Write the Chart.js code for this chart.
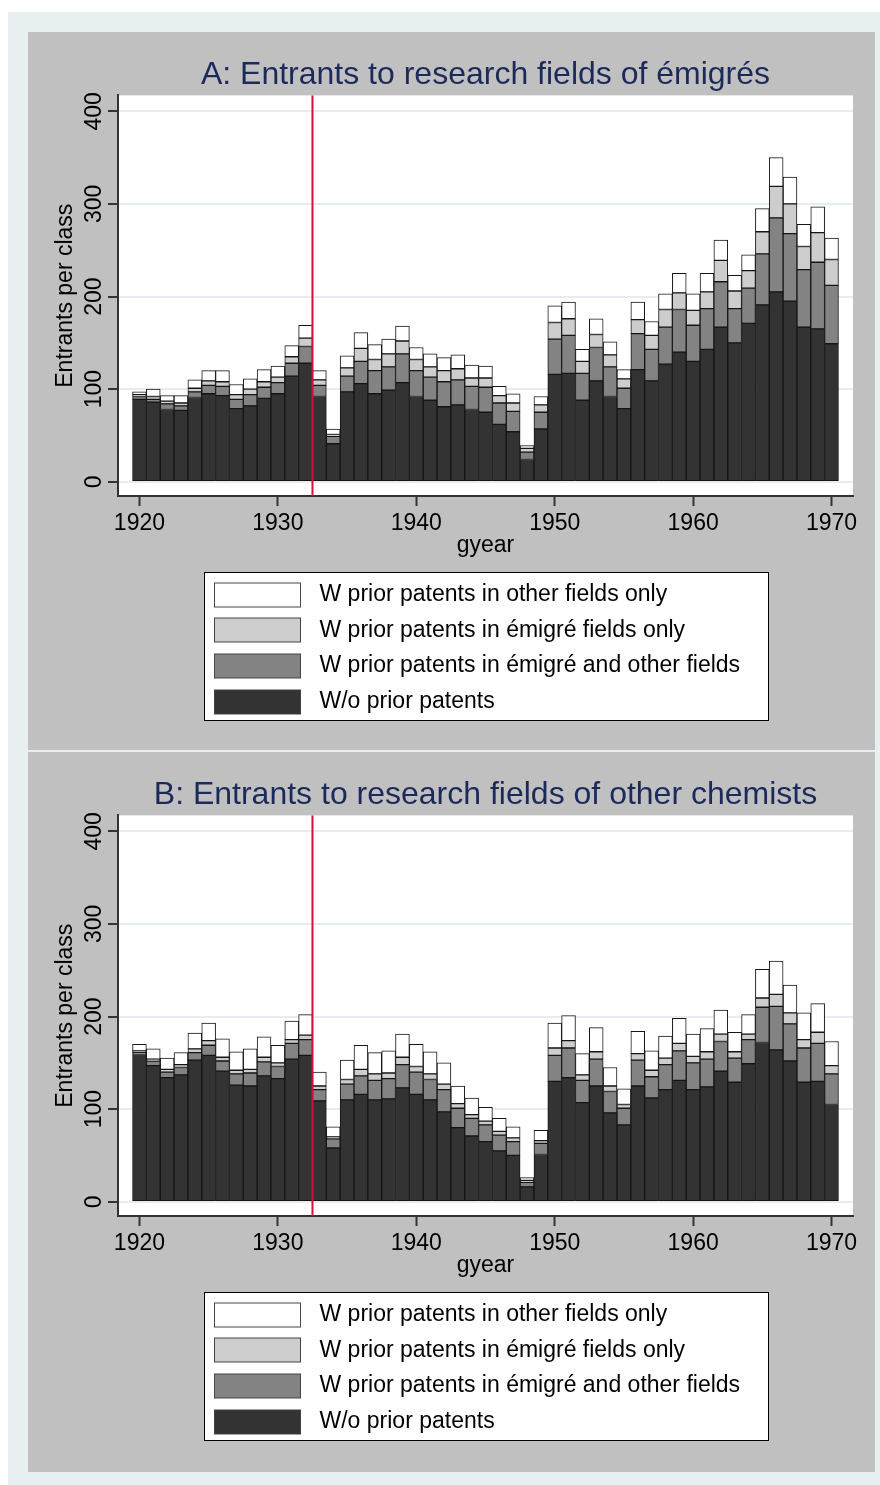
<!DOCTYPE html>
<html>
<head>
<meta charset="utf-8">
<script src="https://cdn.jsdelivr.net/npm/chart.js@4.4.1/dist/chart.umd.min.js"></script>
<style>
    html, body { margin: 0; padding: 0; background: #fff; }
    #page { position: absolute; left: 8px; top: 12px; width: 872px; height: 1473px; background: #e8eff1; }
    .panel { position: absolute; left: 28px; width: 847px; background: #c0c0c0; }
    #panelA { top: 32px; height: 718px; }
    #panelB { top: 752px; height: 720px; }
    canvas { display: block; }
</style>
</head>
<body>
<div id="page"></div>
<div class="panel" id="panelA"><canvas id="chartA" width="847" height="718"></canvas></div>
<div class="panel" id="panelB"><canvas id="chartB" width="847" height="720"></canvas></div>
<script>
// years on the x axis
const years = [1920, 1921, 1922, 1923, 1924, 1925, 1926, 1927, 1928, 1929,
    1930, 1931, 1932, 1933, 1934, 1935, 1936, 1937, 1938, 1939,
    1940, 1941, 1942, 1943, 1944, 1945, 1946, 1947, 1948, 1949,
    1950, 1951, 1952, 1953, 1954, 1955, 1956, 1957, 1958, 1959,
    1960, 1961, 1962, 1963, 1964, 1965, 1966, 1967, 1968, 1969, 1970];

const xTicks = [1920, 1930, 1940, 1950, 1960, 1970];
const yTicks = [0, 100, 200, 300, 400];
const cutoffYear = 1932.5;

const seriesLabels = [
    'W/o prior patents',
    'W prior patents in émigré and other fields',
    'W prior patents in émigré fields only',
    'W prior patents in other fields only'
];

// panel A: entrants to research fields of emigres
const aNone = [89, 86, 78, 77, 91, 95, 93, 79, 82, 90,
    95, 114, 128, 92, 41, 97, 106, 95, 99, 107,
    92, 88, 81, 83, 78, 75, 62, 54, 24, 57,
    116, 117, 88, 109, 92, 79, 121, 109, 127, 140,
    130, 143, 167, 150, 171, 191, 205, 195, 167, 165, 149];
const aBoth = [3, 3, 6, 5, 6, 9, 10, 10, 12, 12,
    12, 14, 18, 12, 8, 17, 24, 25, 25, 31,
    28, 25, 27, 27, 25, 27, 23, 22, 8, 18,
    38, 41, 29, 36, 32, 22, 39, 34, 40, 46,
    39, 44, 49, 37, 38, 55, 80, 73, 62, 72, 63];
const aEmigre = [2, 3, 3, 3, 4, 5, 5, 5, 6, 6,
    6, 7, 9, 6, 2, 9, 14, 12, 14, 14,
    12, 11, 12, 12, 9, 10, 8, 9, 4, 8,
    18, 18, 13, 14, 13, 10, 15, 15, 19, 18,
    16, 18, 23, 19, 19, 24, 34, 32, 25, 32, 28];
const aOther = [3, 8, 6, 8, 9, 11, 12, 11, 11, 13,
    12, 12, 14, 10, 6, 13, 17, 16, 16, 16,
    13, 14, 14, 15, 14, 13, 10, 10, 3, 9,
    18, 18, 13, 17, 14, 10, 19, 15, 17, 21,
    18, 20, 22, 17, 17, 25, 31, 29, 24, 28, 23];

// panel B: entrants to research fields of other chemists
const bNone = [159, 147, 134, 137, 153, 158, 141, 126, 125, 136,
    133, 154, 158, 109, 58, 110, 116, 110, 111, 123,
    116, 110, 97, 80, 71, 65, 55, 50, 16, 51,
    130, 134, 107, 125, 96, 83, 125, 112, 121, 131,
    121, 124, 141, 129, 149, 172, 164, 152, 129, 130, 105];
const bBoth = [2, 5, 6, 8, 8, 11, 11, 12, 14, 15,
    13, 17, 17, 12, 10, 17, 20, 21, 22, 25,
    24, 22, 24, 21, 19, 18, 17, 15, 5, 12,
    28, 32, 24, 29, 23, 18, 28, 23, 27, 32,
    29, 30, 32, 26, 26, 38, 47, 40, 37, 41, 33];
const bEmigre = [2, 2, 3, 3, 4, 5, 4, 4, 4, 5,
    4, 4, 5, 4, 2, 5, 7, 7, 6, 8,
    6, 6, 6, 5, 4, 4, 4, 4, 2, 3,
    8, 8, 6, 8, 6, 4, 7, 7, 7, 8,
    7, 8, 8, 7, 6, 10, 13, 12, 9, 12, 9];
const bOther = [7, 11, 12, 13, 17, 19, 20, 20, 22, 22,
    19, 20, 22, 15, 11, 21, 26, 23, 24, 25,
    24, 24, 23, 19, 18, 15, 14, 12, 3, 11,
    27, 27, 23, 26, 20, 17, 24, 21, 24, 27,
    24, 25, 26, 21, 21, 31, 36, 30, 29, 31, 26];

const seriesColors = ['#333333', '#838383', '#cdcdcd', '#ffffff'];
const FONT = '"Liberation Sans", Arial, sans-serif';

Chart.defaults.font.family = FONT;
Chart.defaults.color = '#000';

// white plot region
const plotBackground = {
    id: 'plotBackground',
    beforeDraw: (chart) => {
        const { ctx, chartArea: a } = chart;
        ctx.save();
        ctx.fillStyle = '#ffffff';
        ctx.fillRect(a.left, a.top, a.right - a.left, a.bottom - a.top);
        ctx.restore();
    }
};

// red vertical line at the cutoff year
const cutoffLine = {
    id: 'cutoffLine',
    afterDatasetsDraw: (chart) => {
        const { ctx, chartArea: a, scales } = chart;
        const x = scales.x.getPixelForValue(cutoffYear);
        ctx.save();
        ctx.strokeStyle = '#d0103f';
        ctx.lineWidth = 2;
        ctx.beginPath();
        ctx.moveTo(x, a.top);
        ctx.lineTo(x, a.bottom);
        ctx.stroke();
        ctx.restore();
    }
};

// boxed one-column legend under the axis, top series first
const boxLegend = {
    id: 'boxLegend',
    afterDraw: (chart) => {
        const { ctx, chartArea: a } = chart;
        const items = chart.data.datasets.slice().reverse();
        ctx.save();
        ctx.font = '23px ' + FONT;
        const textW = Math.max(...items.map(d => ctx.measureText(d.label).width));
        const w = Math.round(115 + textW + 28);
        const h = 148;
        const left = Math.round((a.left + a.right) / 2 - w / 2) + 0.5;
        const top = Math.round(a.bottom + 76) + 0.5;
        ctx.fillStyle = '#ffffff';
        ctx.fillRect(left, top, w, h);
        ctx.strokeStyle = '#000';
        ctx.lineWidth = 1;
        ctx.strokeRect(left, top, w, h);
        items.forEach((d, i) => {
            const cy = top + 22 + i * 35.7;
            ctx.fillStyle = d.backgroundColor;
            ctx.fillRect(left + 10, Math.round(cy - 12), 86, 24);
            ctx.strokeStyle = '#444';
            ctx.strokeRect(left + 10, Math.round(cy - 12), 86, 24);
            ctx.fillStyle = '#000';
            ctx.textBaseline = 'middle';
            ctx.textAlign = 'left';
            ctx.fillText(d.label, left + 115, cy);
        });
        ctx.restore();
    }
};

function makePanel(canvasId, titleText, series) {
    const canvas = document.getElementById(canvasId);
    const datasets = series.map((values, i) => ({
        label: seriesLabels[i],
        data: values.map((v, j) => ({ x: years[j], y: v })),
        backgroundColor: seriesColors[i],
        borderColor: '#151515',
        borderWidth: 1,
        borderSkipped: false,
        barPercentage: 1,
        categoryPercentage: 1
    }));

    return new Chart(canvas.getContext('2d'), {
        type: 'bar',
        data: { datasets: datasets },
        plugins: [plotBackground, cutoffLine, boxLegend],
        options: {
            responsive: false,
            animation: false,
            layout: { padding: { left: 0, right: 22, top: 0, bottom: canvas.height - 527 } },
            plugins: {
                legend: { display: false },
                tooltip: { enabled: false },
                title: {
                    display: true,
                    text: titleText,
                    fullSize: false,
                    color: '#1c2a5b',
                    font: { size: 32, weight: 'normal' },
                    padding: { top: 24, bottom: 1 }
                }
            },
            scales: {
                x: {
                    type: 'linear',
                    stacked: true,
                    offset: false,
                    min: 1918.45,
                    max: 1971.55,
                    afterBuildTicks: (s) => { s.ticks = xTicks.map(v => ({ value: v })); },
                    afterFit: (s) => { s.height = 63; },
                    grid: { offset: false, drawOnChartArea: false, tickColor: '#333', tickLength: 10, tickWidth: 2 },
                    border: { color: '#333', width: 2 },
                    ticks: {
                        autoSkip: false,
                        maxRotation: 0,
                        padding: 4,
                        color: '#000',
                        font: { size: 23 },
                        callback: (v) => String(v)
                    },
                    title: { display: true, text: 'gyear', color: '#000', font: { size: 23 }, padding: { top: 0, bottom: 0 } }
                },
                y: {
                    stacked: true,
                    min: -15.4,
                    max: 417.2,
                    afterBuildTicks: (s) => { s.ticks = yTicks.map(v => ({ value: v })); },
                    afterFit: (s) => { s.width = 90; },
                    grid: { color: '#e6edf0', lineWidth: 2, tickColor: '#333', tickLength: 10, tickWidth: 2 },
                    border: { color: '#333', width: 2 },
                    ticks: {
                        minRotation: 90,
                        maxRotation: 90,
                        crossAlign: 'center',
                        padding: -6,
                        color: '#000',
                        font: { size: 23 }
                    },
                    title: { display: true, text: 'Entrants per class', color: '#000', font: { size: 23 }, padding: { top: 24 } }
                }
            }
        }
    });
}

makePanel('chartA', 'A: Entrants to research fields of émigrés', [aNone, aBoth, aEmigre, aOther]);
makePanel('chartB', 'B: Entrants to research fields of other chemists', [bNone, bBoth, bEmigre, bOther]);
</script>
</body>
</html>
